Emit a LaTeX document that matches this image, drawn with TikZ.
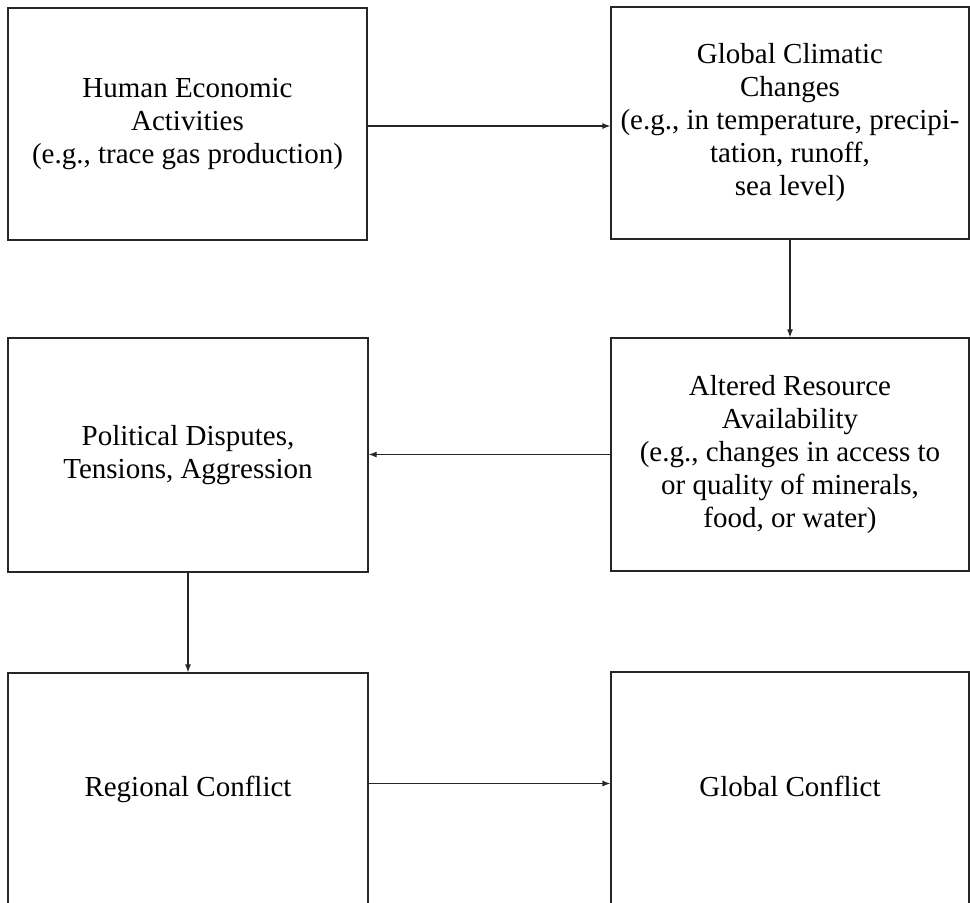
\documentclass[tikz,border=0pt]{standalone}
\usepackage{fontspec}
\setmainfont{Liberation Serif}
\usetikzlibrary{arrows.meta}
\begin{document}
\begin{tikzpicture}[x=1pt,y=-1pt,
  box/.style={draw=black!85, line width=1.2pt, rectangle, inner sep=0pt, align=center,
    font=\fontsize{29}{33}\selectfont},
  link/.style={draw=black!85, line width=1.2pt, -{Latex[length=8pt,width=6pt]}}]
\useasboundingbox (0,0) rectangle (970,903);
\clip (0,0) rectangle (970,903);
\node[box, minimum width=359pt, minimum height=232pt] (hum) at (187.5,124)
  {Human Economic\\Activities\\(e.g., trace gas production)};
\node[box, minimum width=358pt, minimum height=232pt] (clim) at (790,123)
  {Global Climatic\\Changes\\(e.g., in temperature, precipi-\\tation, runoff,\\sea level)};
\node[box, minimum width=360pt, minimum height=234pt] (pol) at (188,455)
  {Political Disputes,\\Tensions, Aggression};
\node[box, minimum width=358pt, minimum height=233pt] (res) at (790,454.5)
  {Altered Resource\\Availability\\(e.g., changes in access to\\or quality of minerals,\\food, or water)};
\node[box, minimum width=360pt, minimum height=233pt] (reg) at (188,789.5)
  {\raisebox{6pt}{Regional Conflict}};
\node[box, minimum width=358pt, minimum height=234pt] (glob) at (790,789)
  {\raisebox{6pt}{Global Conflict}};
\draw[link] ([yshift=-2pt]hum.east) -- ([yshift=-2pt]hum.east -| clim.west);
\draw[link] (clim.south) -- (res.north);
\draw[link] (res.west) -- (res.west -| pol.east);
\draw[link] (pol.south) -- (reg.north);
\draw[link] ([yshift=6pt]reg.east) -- ([yshift=6pt]reg.east -| glob.west);
\end{tikzpicture}
\end{document}
